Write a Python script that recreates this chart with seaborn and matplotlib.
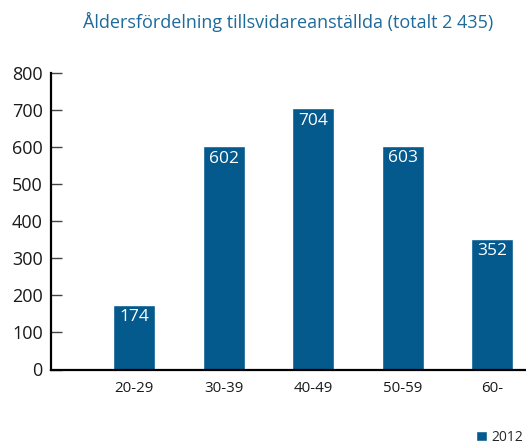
import matplotlib
matplotlib.use("Agg")
import matplotlib.pyplot as plt
import seaborn as sns
import pandas as pd
from matplotlib.patches import Patch

categories = ["20-29", "30-39", "40-49", "50-59", "60-"]
values = [174, 602, 704, 603, 352]
series_name = "2012"
yticks = [0, 100, 200, 300, 400, 500, 600, 700, 800]
title = "Åldersfördelning tillsvidareanställda (totalt 2 435)"

bar_color = "#045a8d"
title_color = "#1d6a9b"

sns.set_theme(style="white")
plt.rcParams["font.family"] = ["Open Sans", "DejaVu Sans"]

df = pd.DataFrame({"age": categories, "count": values})

fig = plt.figure(figsize=(5.26, 4.45), dpi=100)
ax = fig.add_axes([51/526, 1 - 369.5/445, 1 - 51/526, (369.5 - 72.7)/445])

sns.barplot(data=df, x="age", y="count", color=bar_color, saturation=1,
            width=0.47, ax=ax)

for p, v in zip(ax.patches, values):
    ax.text(p.get_x() + p.get_width()/2, p.get_height() - 12, str(v),
            ha="center", va="top", color="white", fontsize=12.5)

ax.set_ylim(0, 800)
ax.set_xlim(-0.93, 4.38)
ax.set_yticks(yticks)
ax.set_yticklabels([str(t) for t in yticks], fontsize=13, color="#1a1a1a")
ax.set_xticks(range(len(categories)))
ax.set_xticklabels(categories, fontsize=10.8, color="#1a1a1a")
ax.set_xlabel("")
ax.set_ylabel("")
ax.tick_params(axis="y", direction="in", length=8, width=1, color="#444444", pad=6, left=True)
ax.tick_params(axis="x", length=0, pad=8)
for s in ["top", "right"]:
    ax.spines[s].set_visible(False)
for s in ["left", "bottom"]:
    ax.spines[s].set_color("black")
    ax.spines[s].set_linewidth(1.6)

fig.text(288/526, 1 - 22/445, title, ha="center", va="center",
         fontsize=13, color=title_color)

fig.legend(handles=[Patch(facecolor=bar_color, label=series_name)],
           loc="lower left", bbox_to_anchor=(476/526, 0.0),
           frameon=False, handlelength=0.8, handleheight=0.8,
           handletextpad=0.3, fontsize=10, borderaxespad=0, borderpad=0.0)

fig.savefig("out.png", dpi=100)
